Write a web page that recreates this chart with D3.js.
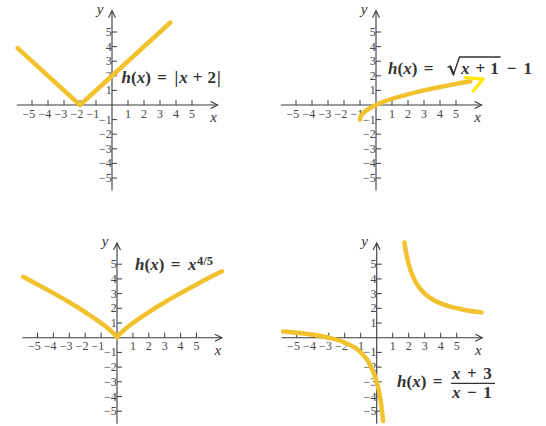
<!DOCTYPE html>
<html>
<head>
<meta charset="utf-8">
<script src="https://cdn.jsdelivr.net/npm/d3@7/dist/d3.min.js"></script>
<style>
  html, body { margin: 0; padding: 0; background: #fff; }
  svg { display: block; }
  svg text { font-family: "Liberation Serif", "Times New Roman", Times, "DejaVu Serif", serif; }
  .tick-label { font-size: 12px; fill: #444; }
  .axis-name { font-style: italic; font-size: 15px; fill: #333; }
  .formula { font-weight: bold; fill: #333; }
</style>
</head>
<body>
<svg id="chart" width="546" height="426"></svg>
<script>
// Integer ticks shared by every panel
const tickValues = [-5, -4, -3, -2, -1, 1, 2, 3, 4, 5];
const tickLabels = ["−5", "−4", "−3", "−2", "−1", "1", "2", "3", "4", "5"];

// h(x) = |x + 2|
const absX = [-5.9, -2, 3.65];
const absY = [3.9, 0, 5.65];

// h(x) = √(x + 1) − 1
const sqrtX = [-1, -0.97, -0.9, -0.75, -0.5, 0, 0.5, 1, 2, 3, 4, 5, 5.9];
const sqrtY = [-1, -0.827, -0.684, -0.5, -0.293, 0, 0.225, 0.414, 0.732, 1, 1.236, 1.449, 1.627];
const sqrtArrowTip = [6.7, 1.775];

// h(x) = x^(4/5)
const powX = [-5.9, -5, -4, -3, -2, -1, -0.5, -0.2, -0.05, 0, 0.05, 0.2, 0.5, 1, 2, 3, 4, 5, 6, 6.6];
const powY = [4.14, 3.62, 3.03, 2.41, 1.74, 1, 0.574, 0.276, 0.091, 0, 0.091, 0.276, 0.574, 1, 1.74, 2.41, 3.03, 3.62, 4.19, 4.52];

// h(x) = (x + 3)/(x − 1), two branches either side of x = 1
const ratLeftX = [-5.85, -5, -4, -3, -2, -1, -0.5, 0, 0.1, 0.2, 0.3, 0.4];
const ratLeftY = [0.416, 0.333, 0.2, 0, -0.333, -1, -1.667, -3, -3.444, -4, -4.714, -5.667];
const ratRightX = [1.73, 1.85, 2, 2.25, 2.5, 3, 3.5, 4, 4.5, 5, 5.5, 6, 6.55];
const ratRightY = [6.479, 5.706, 5, 4.2, 3.667, 3, 2.6, 2.333, 2.143, 2, 1.889, 1.8, 1.721];

const svg = d3.select("#chart");
const curveColor = "#f2c12e";
const inkColor = "#333";

// Panel placement (pixel origin and unit sizes)
const layout = {
  abs:  { ox: 112,   oy: 105,   ux: 16,   uy: 14.6 },
  sqrt: { ox: 376,   oy: 105,   ux: 16,   uy: 14.6 },
  pow:  { ox: 117,   oy: 337.7, ux: 15.9, uy: 14.7 },
  rat:  { ox: 376.7, oy: 337.7, ux: 16,   uy: 14.7 }
};

function makeScales(p) {
  const x = d3.scaleLinear().domain([-5, 5]).range([p.ox - 5 * p.ux, p.ox + 5 * p.ux]);
  const y = d3.scaleLinear().domain([-5, 5]).range([p.oy + 5 * p.uy, p.oy - 5 * p.uy]);
  return { x, y };
}

function drawAxes(g, s) {
  const axisColor = "#3a3a3a";
  const x0 = s.x(0), y0 = s.y(0);
  const xl = s.x(-5.95), xr = s.x(6.6);
  const yb = s.y(-5.85), yt = s.y(6.45);

  // x axis with tick marks above the line
  g.append("line").attr("x1", xl).attr("x2", xr).attr("y1", y0).attr("y2", y0)
    .attr("stroke", axisColor).attr("stroke-width", 1.1);
  g.append("path").attr("d", `M${xr - 7},${y0 - 3.5}L${xr},${y0}L${xr - 7},${y0 + 3.5}`)
    .attr("fill", "none").attr("stroke", axisColor).attr("stroke-width", 1.1);
  g.selectAll(".xt").data(tickValues).join("line")
    .attr("x1", d => s.x(d)).attr("x2", d => s.x(d))
    .attr("y1", y0).attr("y2", y0 - 5)
    .attr("stroke", axisColor).attr("stroke-width", 1);
  g.selectAll(".xl").data(tickValues).join("text")
    .attr("class", "tick-label")
    .attr("x", d => d < 0 ? s.x(d) + 3.2 : s.x(d))
    .attr("y", y0 + 12.5)
    .attr("text-anchor", d => d < 0 ? "end" : "middle")
    .text((d, i) => tickLabels[i]);

  // y axis with tick marks right of the line
  g.append("line").attr("x1", x0).attr("x2", x0).attr("y1", yb).attr("y2", yt)
    .attr("stroke", axisColor).attr("stroke-width", 1.1);
  g.append("path").attr("d", `M${x0 - 3.5},${yt + 7}L${x0},${yt}L${x0 + 3.5},${yt + 7}`)
    .attr("fill", "none").attr("stroke", axisColor).attr("stroke-width", 1.1);
  g.selectAll(".yt").data(tickValues).join("line")
    .attr("x1", x0).attr("x2", x0 + 5)
    .attr("y1", d => s.y(d)).attr("y2", d => s.y(d))
    .attr("stroke", axisColor).attr("stroke-width", 1);
  g.selectAll(".yl").data(tickValues).join("text")
    .attr("class", "tick-label")
    .attr("x", x0 - 0.3)
    .attr("y", d => s.y(d) + 4)
    .attr("text-anchor", "end")
    .text((d, i) => tickLabels[i]);

  g.append("text").attr("class", "axis-name").attr("x", x0 - 12).attr("y", yt + 3)
    .attr("text-anchor", "middle").text("y");
  g.append("text").attr("class", "axis-name").attr("x", xr - 4).attr("y", y0 + 17)
    .attr("text-anchor", "middle").text("x");
}

function drawCurve(g, s, xs, ys, curve) {
  const pts = xs.map((v, i) => [v, ys[i]]);
  const line = d3.line().x(d => s.x(d[0])).y(d => s.y(d[1])).curve(curve);
  return g.append("path").attr("d", line(pts))
    .attr("fill", "none").attr("stroke", curveColor)
    .attr("stroke-width", 4.5).attr("stroke-linecap", "round").attr("stroke-linejoin", "round");
}

// Lays out a formula piece by piece; returns the pieces' extents
function formula(g, x, y, pieces, size) {
  let cx = x;
  const placed = [];
  pieces.forEach(p => {
    cx += (p.gap || 0);
    if (p.space) { placed.push({ x0: cx, x1: cx + p.space }); cx += p.space; return; }
    const fs = p.size || size;
    const t = g.append("text").attr("class", "formula")
      .attr("x", cx).attr("y", y + (p.dy || 0))
      .style("font-size", fs + "px")
      .style("font-style", p.i ? "italic" : "normal")
      .text(p.t);
    const w = t.node().getComputedTextLength();
    placed.push({ x0: cx, x1: cx + w });
    cx += w;
  });
  return placed;
}

const I = (t, gap) => ({ t, i: true, gap });
const R = (t, gap) => ({ t, i: false, gap });
const FS = 17;

// Panel 1: |x + 2|
{
  const s = makeScales(layout.abs);
  const g = svg.append("g");
  drawAxes(g, s);
  drawCurve(g, s, absX, absY, d3.curveLinear);
  formula(g, 121.5, 83, [I("h"), R("("), I("x"), R(")"), R("=", 6.5), R("|", 7.5), I("x", 1), R("+", 5), R("2", 5), R("|", 1)], FS);
}

// Panel 2: √(x + 1) − 1
{
  const s = makeScales(layout.sqrt);
  const g = svg.append("g");
  drawAxes(g, s);
  drawCurve(g, s, sqrtX, sqrtY, d3.curveCatmullRom);
  const [tx, ty] = [s.x(sqrtArrowTip[0]), s.y(sqrtArrowTip[1])];
  g.append("path").attr("d", `M${tx - 18},${ty - 1.5}L${tx},${ty}L${tx - 10},${ty + 12}`)
    .attr("fill", "none").attr("stroke", "#ffe800").attr("stroke-width", 3.2)
    .attr("stroke-linecap", "round").attr("stroke-linejoin", "round");
  const base = 73.5;
  const placed = formula(g, 388, base, [I("h"), R("("), I("x"), R(")"), R("=", 6.5), { space: 12, gap: 14 }, I("x", 1.5), R("+", 6), R("1", 5), R("−", 8), R("1", 7)], FS);
  const rad = placed[5], one = placed[8];
  // radical sign with its bar over x + 1
  g.append("path")
    .attr("d", `M${rad.x0},${base - 6}L${rad.x0 + 2.5},${base - 7.5}L${rad.x0 + 6},${base + 1}L${rad.x1},${base - 16.5}H${one.x1 + 2}`)
    .attr("fill", "none").attr("stroke", inkColor).attr("stroke-width", 1.4)
    .attr("stroke-linejoin", "miter");
  g.append("path")
    .attr("d", `M${rad.x0 + 2.5},${base - 7.5}L${rad.x0 + 6},${base + 1}`)
    .attr("stroke", inkColor).attr("stroke-width", 2.2);
}

// Panel 3: x^(4/5)
{
  const s = makeScales(layout.pow);
  const g = svg.append("g");
  drawAxes(g, s);
  drawCurve(g, s, powX, powY, d3.curveMonotoneX);
  formula(g, 135, 270, [I("h"), R("("), I("x"), R(")"), R("=", 6.5), I("x", 7.5), { t: "4/5", i: false, size: 12.5, dy: -5.5, gap: 0.5 }], FS);
}

// Panel 4: (x + 3)/(x − 1)
{
  const s = makeScales(layout.rat);
  const g = svg.append("g");
  drawAxes(g, s);
  drawCurve(g, s, ratLeftX, ratLeftY, d3.curveMonotoneX);
  drawCurve(g, s, ratRightX, ratRightY, d3.curveMonotoneX);
  formula(g, 397, 387, [I("h"), R("("), I("x"), R(")"), R("=", 6.5)], FS);
  formula(g, 452, 379, [I("x"), R("+", 6.5), R("3", 6.5)], FS);
  formula(g, 452, 397.5, [I("x"), R("−", 6.5), R("1", 6.5)], FS);
  g.append("line").attr("x1", 451).attr("x2", 495).attr("y1", 383.3).attr("y2", 383.3)
    .attr("stroke", inkColor).attr("stroke-width", 1.3);
}
</script>
</body>
</html>
